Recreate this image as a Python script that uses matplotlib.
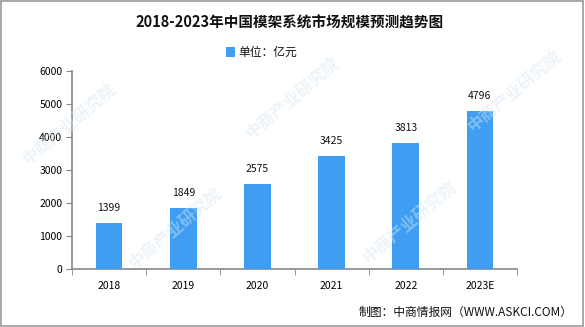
import matplotlib.pyplot as plt
from matplotlib.patches import Rectangle

plt.rcParams['font.family'] = ['Noto Sans CJK SC', 'DejaVu Sans']

years = ["2018", "2019", "2020", "2021", "2022", "2023E"]
values = [1399, 1849, 2575, 3425, 3813, 4796]
yticks = [0, 1000, 2000, 3000, 4000, 5000, 6000]

bar_color = "#3f9ef2"
axis_color = "#888888"

fig = plt.figure(figsize=(5.85, 3.27), dpi=100)
ax = fig.add_axes([0.1231, 0.1774, 0.7607, 0.6055])

x = list(range(len(years)))
bars = ax.bar(x, values, width=0.36, color=bar_color, zorder=3)
for xi, v in zip(x, values):
    ax.annotate(str(v), (xi, v), xytext=(0, 7), textcoords="offset points",
                ha="center", va="bottom", fontsize=7.5, color="#111111")

ax.set_xlim(-0.5, len(years) - 0.5)
ax.set_ylim(0, 6000)
ax.set_yticks(yticks)
ax.set_yticklabels([str(t) for t in yticks], fontsize=7.5)

# category labels centred, tick marks on the boundaries
ax.set_xticks(x)
ax.set_xticklabels(years, fontsize=7.5)
ax.tick_params(axis="x", length=0, pad=9)
ax.set_xticks([i - 0.5 for i in range(len(years) + 1)], minor=True)
ax.tick_params(axis="x", which="minor", length=4, color=axis_color, direction="out")
ax.tick_params(axis="y", length=4, color=axis_color, direction="out", pad=3)

for side in ["top", "right"]:
    ax.spines[side].set_visible(False)
for side in ["left", "bottom"]:
    ax.spines[side].set_color(axis_color)
    ax.spines[side].set_linewidth(1.2)

# faint watermark
for wx, wy in [(0.12, 0.62), (0.5, 0.7), (0.88, 0.72), (0.3, 0.3), (0.7, 0.32)]:
    fig.text(wx, wy, "中商产业研究院", rotation=40, fontsize=12, color="#d5e6f3",
             alpha=0.45, ha="center", va="center", fontweight="bold", zorder=0)

fig.text(0.495, 0.93, "2018-2023年中国模架系统市场规模预测趋势图", ha="center", va="center",
         fontsize=10.5, fontweight="bold", color="#111111")
fig.patches.append(Rectangle((0.386, 0.826), 0.016, 0.03, transform=fig.transFigure,
                             facecolor=bar_color, edgecolor="none"))
fig.text(0.408, 0.841, "单位：亿元", ha="left", va="center", fontsize=8.5, color="#111111")
fig.text(0.978, 0.045, "制图：中商情报网（WWW.ASKCI.COM）", ha="right", va="center",
         fontsize=8.5, color="#111111")

fig.patches.append(Rectangle((0.001, 0.003), 0.996, 0.995, transform=fig.transFigure,
                             fill=False, edgecolor="#999999", linewidth=1.2))

fig.savefig("out.png", dpi=100)
